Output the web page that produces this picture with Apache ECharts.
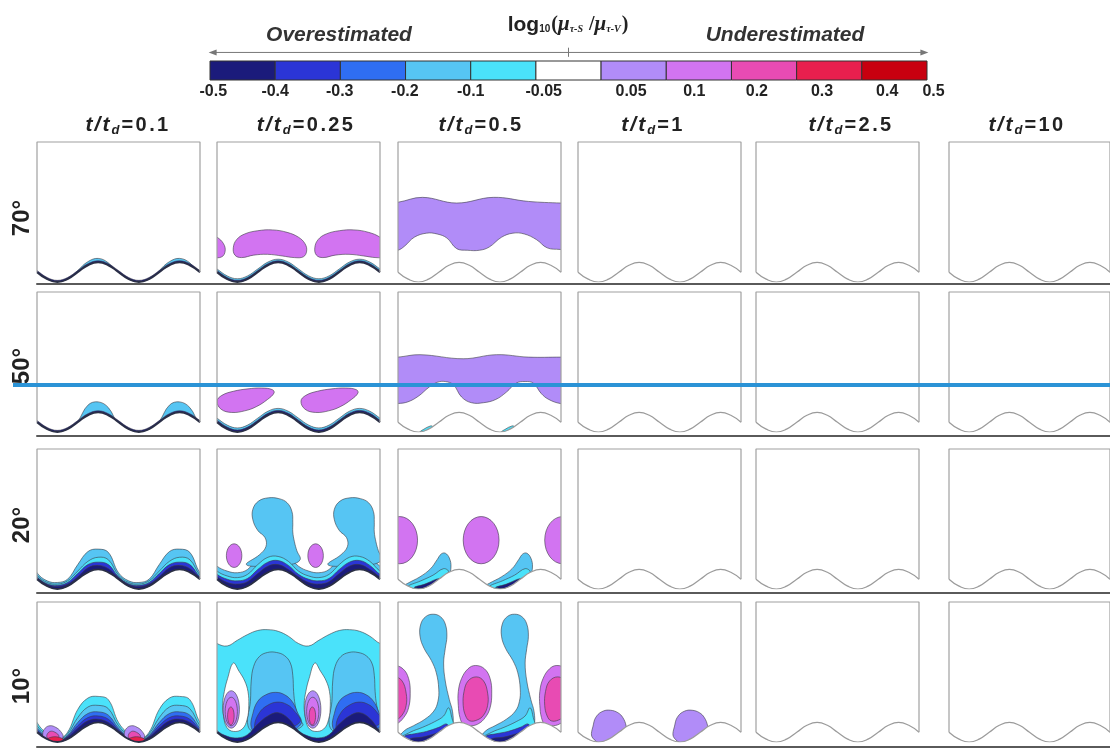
<!DOCTYPE html>
<html><head><meta charset="utf-8">
<script src="https://cdn.jsdelivr.net/npm/echarts@6/dist/echarts.min.js"></script>
<style>html,body{margin:0;padding:0;background:#fff}#c{width:1110px;height:749px}</style>
</head><body><div id="c"></div>
<script>
// ---------- data ----------
const levelColors = ['#1b1b7b','#2b35d6','#2f6ef2','#56c5f3','#4ae2fa','#ffffff','#b18cf8','#d274f1','#e84bb3','#e81f4e','#c8000f'];
const barTicks = ['-0.5','-0.4','-0.3','-0.2','-0.1','-0.05','0.05','0.1','0.2','0.3','0.4','0.5'];
const times = ['0.1','0.25','0.5','1','2.5','10'];
const angles = ['70°','50°','20°','10°'];
// wavy wall, x/λ and y/λ
const wallX = [0,0.125,0.25,0.375,0.5,0.625,0.75,0.875,1,1.125,1.25,1.375,1.5,1.625,1.75,1.875,2];
const wallY = [0.12,0.035,0,0.035,0.12,0.205,0.24,0.205,0.12,0.035,0,0.035,0.12,0.205,0.24,0.205,0.12];

// 70°
const p70_a = [
  {lvl:3, top:[0.09,0.0,-0.03,0.0,0.14,0.25,0.29,0.235]},
  {lvl:0, top:[0.14,0.055,0.02,0.055,0.14,0.225,0.26,0.225]}
];
const p70_b = [
  {lvl:3, top:[0.16,0.075,0.04,0.075,0.16,0.245,0.28,0.245]},
  {lvl:0, top:[0.14,0.055,0.02,0.055,0.14,0.225,0.26,0.225]},
  {lvl:7, at:[-1,0,1], pts:[[0.2,0.42],[0.24,0.52],[0.34,0.59],[0.5,0.63],[0.68,0.64],[0.86,0.61],[1.0,0.55],[1.08,0.47],[1.1,0.38],[1.06,0.31],[0.95,0.3],[0.8,0.32],[0.62,0.34],[0.45,0.33],[0.3,0.3],[0.22,0.33]]}
];
const p70_c = [
  {lvl:6, pts:[[-0.1,0.98],[0,0.98],[0.3,1.04],[0.72,0.97],[1.17,1.04],[1.6,0.99],[2.0,0.97],[2.1,0.97],
               [2.1,0.4],[1.99,0.4],[1.83,0.42],[1.7,0.52],[1.55,0.59],[1.41,0.6],[1.27,0.55],[1.12,0.43],[1.0,0.39],[0.85,0.39],[0.72,0.41],[0.6,0.54],[0.48,0.59],[0.35,0.6],[0.2,0.55],[0.08,0.44],[0,0.39],[-0.1,0.38]]}
];
// 50°
const p50_a = [
  {lvl:3, top:[0.09,0.0,-0.03,0.0,0.13,0.33,0.37,0.3]},
  {lvl:0, top:[0.14,0.055,0.02,0.055,0.14,0.225,0.26,0.225]}
];
const p50_b = [
  {lvl:3, top:[0.17,0.085,0.05,0.085,0.17,0.255,0.29,0.255]},
  {lvl:0, top:[0.145,0.06,0.025,0.06,0.145,0.23,0.265,0.23]},
  {lvl:7, at:[0,1.03], pts:[[0.0,0.38],[0.06,0.45],[0.2,0.5],[0.38,0.53],[0.55,0.54],[0.68,0.52],[0.7,0.48],[0.62,0.4],[0.48,0.31],[0.34,0.26],[0.18,0.24],[0.05,0.28]]}
];
const p50_c = [
  {lvl:6, pts:[[-0.1,0.92],[0,0.92],[0.27,0.95],[0.8,0.9],[1.21,0.95],[1.6,0.92],[2.0,0.92],[2.1,0.92],
               [2.1,0.35],[1.99,0.35],[1.85,0.4],[1.76,0.47],[1.66,0.6],[1.56,0.62],[1.45,0.6],[1.33,0.49],[1.2,0.4],[1.05,0.36],[0.9,0.36],[0.78,0.43],[0.68,0.58],[0.58,0.62],[0.48,0.61],[0.38,0.55],[0.25,0.44],[0.12,0.37],[0,0.35],[-0.1,0.35]]},
  {lvl:4, at:[0,1], pts:[[0.27,0.0],[0.31,0.03],[0.4,0.075],[0.43,0.06],[0.37,0.02],[0.3,-0.02]]}
];
// 20°
const p20_a = [
  {lvl:3, top:[0.2,0.1,0.08,0.12,0.3,0.46,0.49,0.45]},
  {lvl:4, top:[0.17,0.08,0.06,0.1,0.22,0.34,0.39,0.36]},
  {lvl:1, top:[0.15,0.065,0.045,0.08,0.19,0.3,0.33,0.3]},
  {lvl:0, top:[0.14,0.055,0.03,0.06,0.15,0.26,0.29,0.25]}
];
const p20_b = [
  {lvl:3, top:[0.28,0.22,0.2,0.24,0.38,0.46,0.47,0.4]},
  {lvl:3, at:[0,1], pts:[[0.36,0.3],[0.52,0.42],[0.6,0.52],[0.59,0.63],[0.5,0.72],[0.44,0.85],[0.44,0.98],[0.51,1.08],[0.63,1.12],[0.76,1.11],[0.86,1.06],[0.92,0.95],[0.93,0.82],[0.93,0.7],[0.95,0.58],[0.98,0.47],[1.02,0.36],[0.9,0.3],[0.6,0.28]]},
  {lvl:4, top:[0.22,0.16,0.14,0.18,0.3,0.39,0.4,0.34]},
  {lvl:1, top:[0.18,0.12,0.1,0.13,0.24,0.33,0.35,0.29]},
  {lvl:0, top:[0.15,0.08,0.06,0.09,0.19,0.28,0.3,0.24]},
  {lvl:7, at:[0,1], ell:[0.21,0.41,0.095,0.145]}
];
const p20_c = [
  {lvl:7, at:[-1,0,1], ell:[1.02,0.6,0.22,0.29]},
  {lvl:3, at:[0,1], pts:[[0.05,0.02],[0.12,0.07],[0.27,0.15],[0.4,0.25],[0.48,0.36],[0.53,0.43],[0.58,0.44],[0.63,0.38],[0.65,0.27],[0.62,0.17],[0.5,0.08],[0.35,0.02],[0.2,-0.02]]},
  {lvl:4, at:[0,1], pts:[[0.12,0.03],[0.28,0.1],[0.43,0.17],[0.56,0.25],[0.62,0.21],[0.5,0.11],[0.35,0.04],[0.22,0.0]]},
  {lvl:0, at:[0,1], pts:[[0.2,0.02],[0.33,0.06],[0.47,0.12],[0.54,0.13],[0.45,0.06],[0.3,0.01]]}
];
// 10°
const p10_a = [
  {lvl:4, top:[0.24,0.1,0.03,0.12,0.4,0.54,0.56,0.52]},
  {lvl:3, top:[0.2,0.08,0.02,0.1,0.3,0.43,0.45,0.41]},
  {lvl:2, top:[0.17,0.06,0.01,0.08,0.24,0.35,0.37,0.33]},
  {lvl:1, top:[0.15,0.05,0.0,0.07,0.2,0.3,0.32,0.28]},
  {lvl:0, top:[0.14,0.045,0.01,0.06,0.17,0.26,0.28,0.24]},
  {lvl:6, at:[0,1], pts:[[0.07,0.1],[0.1,0.17],[0.16,0.2],[0.23,0.18],[0.29,0.13],[0.32,0.06],[0.25,0.0],[0.1,0.02]]},
  {lvl:8, at:[0,1], pts:[[0.12,0.08],[0.16,0.13],[0.22,0.12],[0.27,0.07],[0.22,0.03],[0.14,0.04]]},
  {lvl:9, at:[0,1], pts:[[0.12,0.03],[0.18,0.06],[0.26,0.06],[0.32,0.03],[0.25,0.0],[0.15,0.0]]}
];
const p10_b = [
  {lvl:4, top:[1.21,1.18,1.25,1.32,1.37,1.38,1.36,1.3]},
  {lvl:3, at:[0,1], pts:[[0.38,0.2],[0.41,0.5],[0.42,0.75],[0.45,0.93],[0.52,1.05],[0.62,1.1],[0.73,1.1],[0.83,1.06],[0.9,0.97],[0.93,0.82],[0.94,0.62],[0.96,0.45],[1.0,0.3],[1.05,0.2],[0.8,0.1],[0.5,0.1]]},
  {lvl:5, at:[0,1], pts:[[0.2,0.97],[0.27,0.87],[0.34,0.75],[0.38,0.62],[0.39,0.45],[0.37,0.28],[0.31,0.16],[0.2,0.13],[0.12,0.18],[0.08,0.32],[0.07,0.47],[0.09,0.62],[0.13,0.78]]},
  {lvl:6, at:[0,1], ell:[0.175,0.4,0.1,0.23]},
  {lvl:7, at:[0,1], ell:[0.175,0.375,0.075,0.175]},
  {lvl:8, at:[0,1], ell:[0.17,0.32,0.04,0.11]},
  {lvl:2, at:[0,1], pts:[[0.42,0.18],[0.44,0.35],[0.5,0.5],[0.6,0.58],[0.72,0.61],[0.83,0.58],[0.92,0.5],[0.98,0.38],[1.03,0.22],[0.8,0.1],[0.5,0.1]]},
  {lvl:1, at:[0,1], pts:[[0.46,0.2],[0.52,0.36],[0.62,0.45],[0.74,0.49],[0.86,0.46],[0.95,0.38],[1.02,0.25],[0.8,0.15],[0.5,0.12]]},
  {lvl:0, top:[0.14,0.07,0.05,0.09,0.22,0.32,0.36,0.29]}
];
const p10_c = [
  {lvl:3, at:[0,1], pts:[[0.03,0.06],[0.08,0.14],[0.19,0.2],[0.33,0.28],[0.44,0.38],[0.49,0.5],[0.5,0.65],[0.47,0.85],[0.41,1.0],[0.32,1.15],[0.27,1.3],[0.28,1.45],[0.34,1.54],[0.43,1.57],[0.52,1.54],[0.58,1.45],[0.6,1.3],[0.58,1.15],[0.56,0.97],[0.58,0.75],[0.63,0.52],[0.67,0.37],[0.67,0.2],[0.6,0.05],[0.3,-0.05]]},
  {lvl:4, at:[0,1], pts:[[0.03,0.04],[0.15,0.12],[0.3,0.18],[0.45,0.25],[0.56,0.32],[0.62,0.42],[0.66,0.3],[0.68,0.18],[0.6,0.05],[0.3,-0.02]]},
  {lvl:1, at:[0,1], pts:[[0.08,0.07],[0.2,0.1],[0.35,0.13],[0.5,0.18],[0.6,0.22],[0.62,0.12],[0.5,0.05],[0.3,0.0],[0.1,0.0]]},
  {lvl:0, at:[0,1], pts:[[0.15,0.04],[0.3,0.06],[0.45,0.1],[0.55,0.13],[0.52,0.05],[0.35,0.0],[0.18,0.0]]},
  {lvl:7, at:[-1,0,1], pts:[[0.95,0.94],[1.06,0.9],[1.13,0.78],[1.15,0.6],[1.13,0.42],[1.07,0.3],[0.98,0.22],[0.88,0.2],[0.8,0.22],[0.76,0.3],[0.74,0.45],[0.74,0.62],[0.78,0.78],[0.86,0.9]]},
  {lvl:8, at:[-1,0,1], pts:[[0.96,0.8],[1.05,0.75],[1.1,0.6],[1.1,0.45],[1.05,0.33],[0.97,0.27],[0.88,0.26],[0.83,0.32],[0.8,0.45],[0.81,0.62],[0.86,0.75]]}
];
const p10_d = [
  {lvl:6, at:[0,1], pts:[[0.18,0.05],[0.19,0.22],[0.23,0.32],[0.31,0.38],[0.4,0.39],[0.49,0.36],[0.55,0.3],[0.59,0.2],[0.6,0.08],[0.4,-0.05]]}
];
const panelData = [
  [p70_a, p70_b, p70_c, [], [], []],
  [p50_a, p50_b, p50_c, [], [], []],
  [p20_a, p20_b, p20_c, [], [], []],
  [p10_a, p10_b, p10_c, p10_d, [], []]
];

// ---------- layout ----------
const colLeft = [37, 217, 398, 578, 756, 949];
const rowTop = [142, 292, 449, 602];
const sepY = [284, 436, 593, 747];
const titleX = [127, 305, 480, 652, 850, 1026];
const angleY = [218, 366, 525, 686];
const PW = 163, PH = 140, XMAX = 2, YMAX = 1.72;
const sans = "'Liberation Sans', Arial, sans-serif";
const serif = "'Liberation Serif', 'Times New Roman', serif";
const barTickPos = [0.05, 1, 1.99, 2.99, 4, 5.12, 6.46, 7.43, 8.39, 9.39, 10.39, 11.1];
const BAR_MAX = 11.2;

function buildItems(list) {
  const items = [];
  list.forEach(s => {
    if (s.top) {
      const pts = [];
      for (let k = -1; k <= 17; k++) pts.push([k * 0.125, s.top[((k % 8) + 8) % 8]]);
      pts.push([2.125, -0.5], [-0.125, -0.5]);
      items.push({lvl: s.lvl, pts});
    } else {
      (s.at || [0]).forEach(dx => {
        if (s.ell) items.push({lvl: s.lvl, ell: [s.ell[0] + dx, s.ell[1], s.ell[2], s.ell[3]]});
        else items.push({lvl: s.lvl, pts: s.pts.map(p => [p[0] + dx, p[1]])});
      });
    }
  });
  return items;
}

const grids = [], xAxes = [], yAxes = [], series = [];
const hidden = {show: false};
function addGrid(g, xa, ya) {
  grids.push(g);
  const i = grids.length - 1;
  xAxes.push(Object.assign({gridIndex: i}, xa));
  yAxes.push(Object.assign({gridIndex: i}, ya));
  return i;
}

for (let r = 0; r < 4; r++) {
  for (let c = 0; c < 6; c++) {
    const gi = addGrid({left: colLeft[c], top: rowTop[r], width: PW, height: PH},
      {type: 'value', min: 0, max: XMAX, show: false},
      {type: 'value', min: 0, max: YMAX, show: false});
    const items = buildItems(panelData[r][c]);
    if (items.length) {
      series.push({
        type: 'custom', xAxisIndex: gi, yAxisIndex: gi, clip: true, z: 2, silent: true,
        data: items.map((_, i) => [i, 0]),
        renderItem: (params, api) => {
          const it = items[params.dataIndex];
          const style = {fill: levelColors[it.lvl], stroke: '#3c3c44', lineWidth: 0.6};
          if (it.ell) {
            const ctr = api.coord([it.ell[0], it.ell[1]]);
            const sz = api.size([it.ell[2], it.ell[3]]);
            return {type: 'ellipse', shape: {cx: ctr[0], cy: ctr[1], rx: sz[0], ry: sz[1]}, style};
          }
          return {type: 'polygon', shape: {points: it.pts.map(p => api.coord(p)), smooth: 0.4}, style};
        }
      });
    }
    const dark = c < 2;
    series.push({
      type: 'line', xAxisIndex: gi, yAxisIndex: gi, z: 3, silent: true, smooth: 0.5,
      symbol: 'none', data: wallX.map((x, i) => [x, wallY[i]]),
      lineStyle: {color: dark ? '#2a2f45' : '#9b9b9b', width: dark ? 1.8 : 1.2},
      areaStyle: {color: '#ffffff', opacity: 1, origin: 'start'}
    });
    series.push({
      type: 'line', xAxisIndex: gi, yAxisIndex: gi, z: 4, silent: true, clip: false,
      symbol: 'none', data: [[0, wallY[0]], [0, YMAX], [XMAX, YMAX], [XMAX, wallY[16]]],
      lineStyle: {color: '#a0a0a0', width: 1.2}
    });
  }
}
// row separators
for (let r = 0; r < 4; r++) {
  addGrid({left: 37, right: 0, top: sepY[r] - 1, height: 1},
    {type: 'value', min: 0, max: 1, axisLine: {show: true, onZero: false, lineStyle: {color: '#5a5a5a', width: 2}},
     axisTick: hidden, axisLabel: hidden, splitLine: hidden},
    {type: 'value', min: 0, max: 1, show: false});
}
// colour bar
const cb = addGrid({left: 210, top: 61, width: 717 * BAR_MAX / 11, height: 19},
  {type: 'value', min: 0, max: BAR_MAX, axisLine: hidden, axisTick: hidden, splitLine: hidden,
   axisLabel: {show: true, customValues: barTickPos, margin: 4, showMinLabel: true, showMaxLabel: true,
     formatter: v => barTicks[barTickPos.indexOf(v)],
     fontFamily: sans, fontWeight: 'bold', fontSize: 16, color: '#222'}},
  {type: 'value', min: 0, max: 1, show: false});
series.push({
  type: 'custom', xAxisIndex: cb, yAxisIndex: cb, silent: true, z: 5,
  data: levelColors.map((_, i) => [i, 0]),
  renderItem: (params, api) => {
    const i = params.dataIndex;
    const p0 = api.coord([i, 1]), p1 = api.coord([i + 1, 0]);
    return {type: 'rect', shape: {x: p0[0], y: p0[1], width: p1[0] - p0[0], height: p1[1] - p0[1]},
      style: {fill: levelColors[i], stroke: '#333', lineWidth: 1}};
  }
});
series.push({
  type: 'line', xAxisIndex: cb, yAxisIndex: cb, silent: true, clip: false, z: 5,
  lineStyle: {color: '#777', width: 1}, itemStyle: {color: '#777'}, symbolSize: [6, 8],
  data: [{value: [0.04, 1.45], symbol: 'triangle', symbolRotate: 90},
         {value: [10.96, 1.45], symbol: 'triangle', symbolRotate: -90}]
});
series.push({
  type: 'line', xAxisIndex: cb, yAxisIndex: cb, silent: true, clip: false, z: 5, symbol: 'none',
  lineStyle: {color: '#777', width: 1}, data: [[5.5, 1.22], [5.5, 1.7]]
});

// titles
const titles = [];
const colRich = {
  i: {fontFamily: sans, fontSize: 21, fontWeight: 'bold', fontStyle: 'italic', color: '#222', lineHeight: 22, padding: [0, 1, 0, 1]},
  n: {fontFamily: sans, fontSize: 20, fontWeight: 'bold', color: '#222', lineHeight: 22, padding: [0, 1.2, 0, 1.2]},
  s: {fontFamily: sans, fontSize: 13, fontWeight: 'bold', fontStyle: 'italic', color: '#222', lineHeight: 14, padding: [10, 1, 0, 1]}
};
times.forEach((t, c) => {
  const txt = '{i|t}{i|/}{i|t}{s|d}' + ('=' + t).split('').map(ch => '{n|' + ch + '}').join('');
  titles.push({text: txt, left: titleX[c], top: 114, textAlign: 'center', padding: 0,
    textStyle: {rich: colRich}});
});
titles.push({
  text: '{b|log}{sb|10}{p|(}{m|μ}{ms|τ-S}{p| /}{m|μ}{ms|τ-V}{p|)}',
  left: 568, top: 13, textAlign: 'center', padding: 0,
  textStyle: {rich: {
    b: {fontFamily: sans, fontSize: 21, fontWeight: 'bold', color: '#222', lineHeight: 24},
    sb: {fontFamily: sans, fontSize: 10, fontWeight: 'bold', color: '#222', lineHeight: 10, padding: [9, 1, 0, 0]},
    p: {fontFamily: serif, fontSize: 20, color: '#222', lineHeight: 24},
    m: {fontFamily: serif, fontSize: 21, fontStyle: 'italic', color: '#222', lineHeight: 24},
    ms: {fontFamily: serif, fontSize: 10, fontStyle: 'italic', color: '#222', lineHeight: 10, padding: [9, 1, 0, 0]}
  }}
});
titles.push({text: 'Overestimated', left: 339, top: 25, textAlign: 'center', padding: 0,
  textStyle: {fontFamily: sans, fontSize: 21, fontWeight: 'bold', fontStyle: 'italic', color: '#333'}});
titles.push({text: 'Underestimated', left: 785, top: 25, textAlign: 'center', padding: 0,
  textStyle: {fontFamily: sans, fontSize: 21, fontWeight: 'bold', fontStyle: 'italic', color: '#333'}});

const graphics = angles.map((a, r) => ({
  type: 'text', x: 22, y: angleY[r], rotation: Math.PI / 2,
  style: {text: a, font: "bold 24px 'Liberation Sans', Arial, sans-serif", fill: '#222',
    align: 'center', verticalAlign: 'middle', textAlign: 'center', textVerticalAlign: 'middle'}
}));
graphics.push({type: 'line', shape: {x1: 13, y1: 385, x2: 1110, y2: 385}, style: {stroke: '#2b93d6', lineWidth: 4}, z: 100});

const chart = echarts.init(document.getElementById('c'), null, {renderer: 'canvas'});
chart.setOption({
  animation: false, backgroundColor: '#fff',
  title: titles, grid: grids, xAxis: xAxes, yAxis: yAxes, series, graphic: graphics
});
</script></body></html>
